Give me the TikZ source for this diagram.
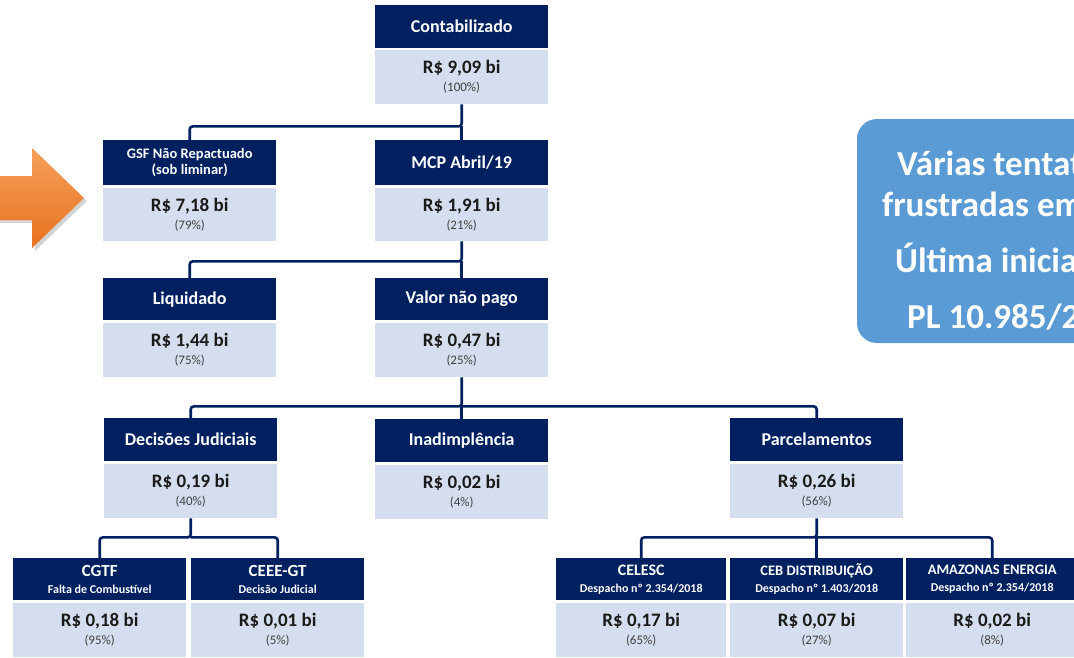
\documentclass[tikz,border=0pt]{standalone}
\usepackage{fontspec}
\setmainfont{Carlito}
\usetikzlibrary{shadows,calc}
\definecolor{navy}{HTML}{002060}
\definecolor{lightb}{HTML}{D5DEEE}
\definecolor{panelblue}{HTML}{5B9BD5}
\definecolor{pctgray}{HTML}{404040}
\definecolor{valdark}{HTML}{1A1A1A}
\definecolor{orangetop}{HTML}{F5A05A}
\definecolor{orangebot}{HTML}{E8711F}
\newcommand\vtx[1]{{\fontsize{19}{20}\selectfont\bfseries\color{valdark}#1}}
\newcommand\ptx[1]{{\fontsize{13}{14}\selectfont\color{pctgray}#1}}
\newcommand\htx[1]{{\fontsize{18}{20}\selectfont\bfseries #1}}
\newcommand\hmid[1]{{\fontsize{14.5}{16}\selectfont\bfseries #1}}
\newcommand\hsub[1]{{\fontsize{12}{13}\selectfont\bfseries #1}}
\begin{document}
\begin{tikzpicture}[x=1pt,y=-1pt,
  hdr/.style={fill=navy, text=white, minimum width=173pt, minimum height=43pt, inner sep=0pt, align=center, anchor=north west, font=\fontsize{12}{17}\selectfont},
  bdy/.style={fill=lightb, minimum width=173pt, minimum height=54pt, inner sep=0pt, align=center, anchor=north west, font=\fontsize{13}{18}\selectfont},
  conn/.style={draw=navy, line width=2.6pt, rounded corners=3pt},
  paneltext/.style={anchor=base west, text=white, inner sep=0pt, font=\fontsize{35}{40}\selectfont\bfseries}
]
\useasboundingbox (0,0) rectangle (1074,657);
\clip (0,0) rectangle (1074,657);

% level 1
\node[hdr] (conth) at (375,5) {\htx{Contabilizado}};
\node[bdy] (contb) at (375,50) {\vtx{R\$ 9,09 bi}\\\ptx{(100\%)}};

% level 2
\node[hdr, minimum height=45pt, font=\fontsize{12}{16}\selectfont] (gsfh) at (103,140) {\hmid{GSF Não Repactuado}\\\hmid{(sob liminar)}};
\node[bdy, minimum height=53pt] (gsfb) at (103,188) {\vtx{R\$ 7,18 bi}\\\ptx{(79\%)}};
\node[hdr, minimum height=45pt] (mcph) at (375,140) {\htx{MCP Abril/19}};
\node[bdy, minimum height=53pt] (mcpb) at (375,188) {\vtx{R\$ 1,91 bi}\\\ptx{(21\%)}};

% level 3
\node[hdr, minimum height=42pt] (liqh) at (103,278) {\htx{Liquidado}};
\node[bdy] (liqb) at (103,323) {\vtx{R\$ 1,44 bi}\\\ptx{(75\%)}};
\node[hdr, minimum height=42pt] (valh) at (375,278) {\htx{Valor não pago}};
\node[bdy] (valb) at (375,323) {\vtx{R\$ 0,47 bi}\\\ptx{(25\%)}};

% level 4
\node[hdr] (dech) at (104,418) {\htx{Decisões Judiciais}};
\node[bdy] (decb) at (104,464) {\vtx{R\$ 0,19 bi}\\\ptx{(40\%)}};
\node[hdr] (inah) at (375,419) {\htx{Inadimplência}};
\node[bdy] (inab) at (375,465) {\vtx{R\$ 0,02 bi}\\\ptx{(4\%)}};
\node[hdr] (parch) at (730,418) {\htx{Parcelamentos}};
\node[bdy] (parcb) at (730,464) {\vtx{R\$ 0,26 bi}\\\ptx{(56\%)}};

% level 5
\node[hdr, minimum height=42pt] (cgtfh) at (13,558) {{\fontsize{17}{18}\selectfont\bfseries CGTF}\\\hsub{Falta de Combustível}};
\node[bdy] (cgtfb) at (13,603) {\vtx{R\$ 0,18 bi}\\\ptx{(95\%)}};
\node[hdr, minimum height=42pt] (ceeeh) at (191,558) {{\fontsize{17}{18}\selectfont\bfseries CEEE-GT}\\\hsub{Decisão Judicial}};
\node[bdy] (ceeeb) at (191,603) {\vtx{R\$ 0,01 bi}\\\ptx{(5\%)}};
\node[hdr, minimum height=42pt, minimum width=170pt] (celh) at (556,558) {{\fontsize{16}{18}\selectfont\bfseries CELESC}\\\hsub{Despacho nº 2.354/2018}};
\node[bdy, minimum width=170pt] (celb) at (556,603) {\vtx{R\$ 0,17 bi}\\\ptx{(65\%)}};
\node[hdr, minimum height=42pt, minimum width=173pt] (cebh) at (730,558) {{\fontsize{14.5}{16}\selectfont\bfseries CEB DISTRIBUIÇÃO}\\\hsub{Despacho nº 1.403/2018}};
\node[bdy, minimum width=173pt] (cebb) at (730,603) {\vtx{R\$ 0,07 bi}\\\ptx{(27\%)}};
\node[hdr, minimum height=42pt, minimum width=172pt] (amzh) at (906,558) {{\fontsize{14.5}{16}\selectfont\bfseries AMAZONAS ENERGIA}\\\hsub{Despacho nº 2.354/2018}};
\node[bdy, minimum width=172pt] (amzb) at (906,603) {\vtx{R\$ 0,02 bi}\\\ptx{(8\%)}};

% connectors
\draw[conn] (contb.south) -- ++(0,22) coordinate (j1) -| (gsfh.north);
\draw[conn] (j1) -- (mcph.north);
\draw[conn] (mcpb.south) -- ++(0,20) coordinate (j2) -| (liqh.north);
\draw[conn] (j2) -- (valh.north);
\draw[conn] (valb.south) -- ++(0,29) coordinate (j3) -| (dech.north);
\draw[conn] (j3) -| (parch.north);
\draw[conn] (j3) -- (inah.north);
\draw[conn] (decb.south) -- ++(0,19) coordinate (j4) -| (cgtfh.north);
\draw[conn] (j4) -| (ceeeh.north);
\draw[conn] (parcb.south) -- ++(0,19) coordinate (j5) -| (celh.north);
\draw[conn] (j5) -| (amzh.north);
\draw[conn] (j5) -- (cebh.north);

% orange arrow
\path[top color=orangetop, bottom color=orangebot,
  drop shadow={shadow xshift=3pt, shadow yshift=-3pt, opacity=0.35}]
  (-5,176) -- (32,176) -- (32,148) -- (84,198) -- (32,248) -- (32,220) -- (-5,220) -- cycle;

% blue panel
\fill[panelblue, rounded corners=20pt] (857,119) rectangle (1130,343);
\node[paneltext] (p1) at (897,175) {Várias tentativas};
\node[paneltext] (p2) at (882,216) {frustradas em};
\node[paneltext] (p3) at (895,272) {Última iniciativa};
\node[paneltext] (p4) at (907,328) {PL 10.985/2018};
\end{tikzpicture}
\end{document}
